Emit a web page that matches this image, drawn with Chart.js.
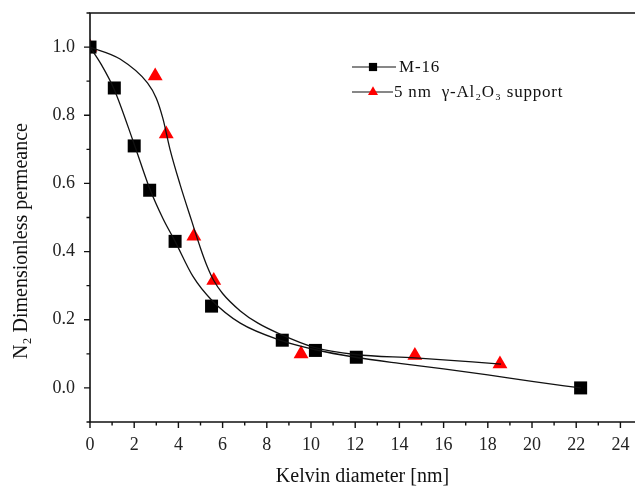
<!DOCTYPE html>
<html>
<head>
<meta charset="utf-8">
<script src="https://cdn.jsdelivr.net/npm/chart.js@4.4.0/dist/chart.umd.min.js"></script>
<style>
  html, body { margin: 0; padding: 0; background: #fff; overflow: hidden; }
  #wrap { width: 635px; height: 486px; }
</style>
</head>
<body>
<div id="wrap"><canvas id="permeance"></canvas></div>
<script>
// measured points
const m16X = [0, 1.1, 2.0, 2.7, 3.85, 5.5, 8.7, 10.2, 12.05, 22.2];
const m16Y = [1.0, 0.88, 0.71, 0.58, 0.43, 0.24, 0.14, 0.11, 0.09, 0.0];
const aluX = [0, 2.95, 3.45, 4.7, 5.6, 9.55, 14.7, 18.55];
const aluY = [1.0, 0.915, 0.745, 0.445, 0.315, 0.10, 0.095, 0.07];

// fitted curves
const m16FitX = [0, 0.5, 1.1, 2.0, 2.7, 3.3, 3.85, 4.66, 5.5, 6.8, 8.7, 10.2, 12.0, 14.0, 16.0, 18.0, 20.0, 22.2];
const m16FitY = [1.0, 0.95, 0.875, 0.715, 0.585, 0.497, 0.43, 0.327, 0.258, 0.19, 0.138, 0.112, 0.09, 0.072, 0.056, 0.038, 0.019, 0.0];
const aluFitX = [0, 1.36, 2.6, 3.0, 3.3, 3.62, 4.07, 4.6, 5.0, 5.3, 5.6, 6.0, 6.8, 7.6, 8.6, 10.1, 12.0, 14.7, 18.6];
const aluFitY = [1.0, 0.965, 0.895, 0.85, 0.79, 0.70, 0.598, 0.49, 0.41, 0.357, 0.315, 0.277, 0.226, 0.19, 0.158, 0.12, 0.098, 0.088, 0.07];

const xTicks = [0, 2, 4, 6, 8, 10, 12, 14, 16, 18, 20, 22, 24];
const yTicks = [0.0, 0.2, 0.4, 0.6, 0.8, 1.0];

const seriesNames = ["M-16", "5 nm  \u03b3-Al\u2082O\u2083 support"];
const yTitle = "N\u2082 Dimensionless permeance";

function pts(xs, ys) {
    return xs.map((x, i) => ({ x: x, y: ys[i] }));
}

const serif = "'Liberation Serif', 'Times New Roman', serif";

// frame, ticks, y title and legend, drawn the way the original plot looks
const extras = {
    id: "extras",
    afterDraw(chart) {
        const ctx = chart.ctx;
        const a = chart.chartArea;
        const xs = chart.scales.x;
        const ys = chart.scales.y;
        ctx.save();
        ctx.strokeStyle = "#111";
        ctx.lineWidth = 1.6;
        ctx.beginPath();
        ctx.moveTo(chart.width, a.top);
        ctx.lineTo(a.left, a.top);
        ctx.lineTo(a.left, a.bottom);
        ctx.lineTo(chart.width, a.bottom);
        ctx.stroke();

        ctx.lineWidth = 1.4;
        ctx.beginPath();
        for (let v = 0; v <= 24; v += 1) {
            const px = xs.getPixelForValue(v);
            ctx.moveTo(px, a.bottom);
            ctx.lineTo(px, a.bottom + (v % 2 === 0 ? 6 : 3.5));
        }
        for (let k = -1; k <= 11; k++) {
            const py = ys.getPixelForValue(k / 10);
            ctx.moveTo(a.left, py);
            ctx.lineTo(a.left - (k % 2 === 0 ? 6 : 3.5), py);
        }
        ctx.stroke();

        // y title
        ctx.save();
        ctx.translate(22, 241);
        ctx.rotate(-Math.PI / 2);
        ctx.fillStyle = "#111";
        ctx.font = "20px " + serif;
        ctx.textAlign = "center";
        ctx.textBaseline = "middle";
        ctx.fillText(yTitle, 0, 0);
        ctx.restore();

        // legend
        const rows = [
            { y: 67, x1: 352, x2: 396, mx: 373, style: "rect", color: "#000", tx: 399 },
            { y: 92, x1: 352, x2: 393, mx: 373, style: "triangle", color: "#f00", tx: 394 }
        ];
        rows.forEach((r, i) => {
            ctx.strokeStyle = "#111";
            ctx.lineWidth = 1.2;
            ctx.beginPath();
            ctx.moveTo(r.x1, r.y);
            ctx.lineTo(r.x2, r.y);
            ctx.stroke();
            ctx.fillStyle = r.color;
            Chart.helpers.drawPoint(ctx, { pointStyle: r.style, radius: 5.8, borderWidth: 0 }, r.mx, r.y);
            ctx.fillStyle = "#111";
            ctx.font = "17px " + serif;
            ctx.letterSpacing = "0.8px";
            ctx.textBaseline = "middle";
            ctx.textAlign = "left";
            ctx.fillText(seriesNames[i], r.tx, r.y + 1);
        });
        ctx.restore();
    }
};

new Chart(document.getElementById("permeance"), {
    type: "scatter",
    data: {
        datasets: [
            {
                label: seriesNames[0] + " fit",
                data: pts(m16FitX, m16FitY),
                showLine: true,
                borderColor: "#111",
                borderWidth: 1.3,
                pointRadius: 0,
                cubicInterpolationMode: "monotone"
            },
            {
                label: seriesNames[1] + " fit",
                data: pts(aluFitX, aluFitY),
                showLine: true,
                borderColor: "#111",
                borderWidth: 1.3,
                pointRadius: 0,
                cubicInterpolationMode: "monotone"
            },
            {
                label: seriesNames[0],
                data: pts(m16X, m16Y),
                pointStyle: "rect",
                pointRadius: 9.2,
                backgroundColor: "#000",
                borderWidth: 0
            },
            {
                label: seriesNames[1],
                data: pts(aluX, aluY),
                pointStyle: "triangle",
                pointRadius: 8.6,
                backgroundColor: "#f00",
                borderWidth: 0
            }
        ]
    },
    options: {
        responsive: true,
        maintainAspectRatio: false,
        animation: false,
        layout: { autoPadding: false, padding: { top: 13, right: 0, left: 0, bottom: 0 } },
        plugins: {
            legend: { display: false },
            tooltip: { enabled: false }
        },
        scales: {
            x: {
                type: "linear",
                min: 0,
                max: 24.66,
                grid: { display: false, drawTicks: false },
                border: { display: false },
                afterBuildTicks: (s) => { s.ticks = xTicks.map(v => ({ value: v })); },
                afterFit: (s) => {
                    s.height = 64;
                    s.paddingLeft = 0;
                    s.paddingRight = 0;
                },
                ticks: {
                    color: "#222",
                    font: { family: serif, size: 18 },
                    padding: 12,
                    maxRotation: 0
                },
                title: {
                    display: true,
                    text: "Kelvin diameter [nm]",
                    color: "#111",
                    font: { family: serif, size: 20, lineHeight: 1.2 },
                    padding: { top: 0, bottom: -3 }
                }
            },
            y: {
                type: "linear",
                min: -0.1,
                max: 1.1,
                grid: { display: false, drawTicks: false },
                border: { display: false },
                afterBuildTicks: (s) => { s.ticks = yTicks.map(v => ({ value: v })); },
                afterFit: (s) => {
                    s.width = 90;
                    s.paddingTop = 0;
                    s.paddingBottom = 0;
                },
                ticks: {
                    color: "#222",
                    font: { family: serif, size: 18 },
                    padding: 15,
                    callback: (v) => Number(v).toFixed(1)
                }
            }
        }
    },
    plugins: [extras]
});
</script>
</body>
</html>
